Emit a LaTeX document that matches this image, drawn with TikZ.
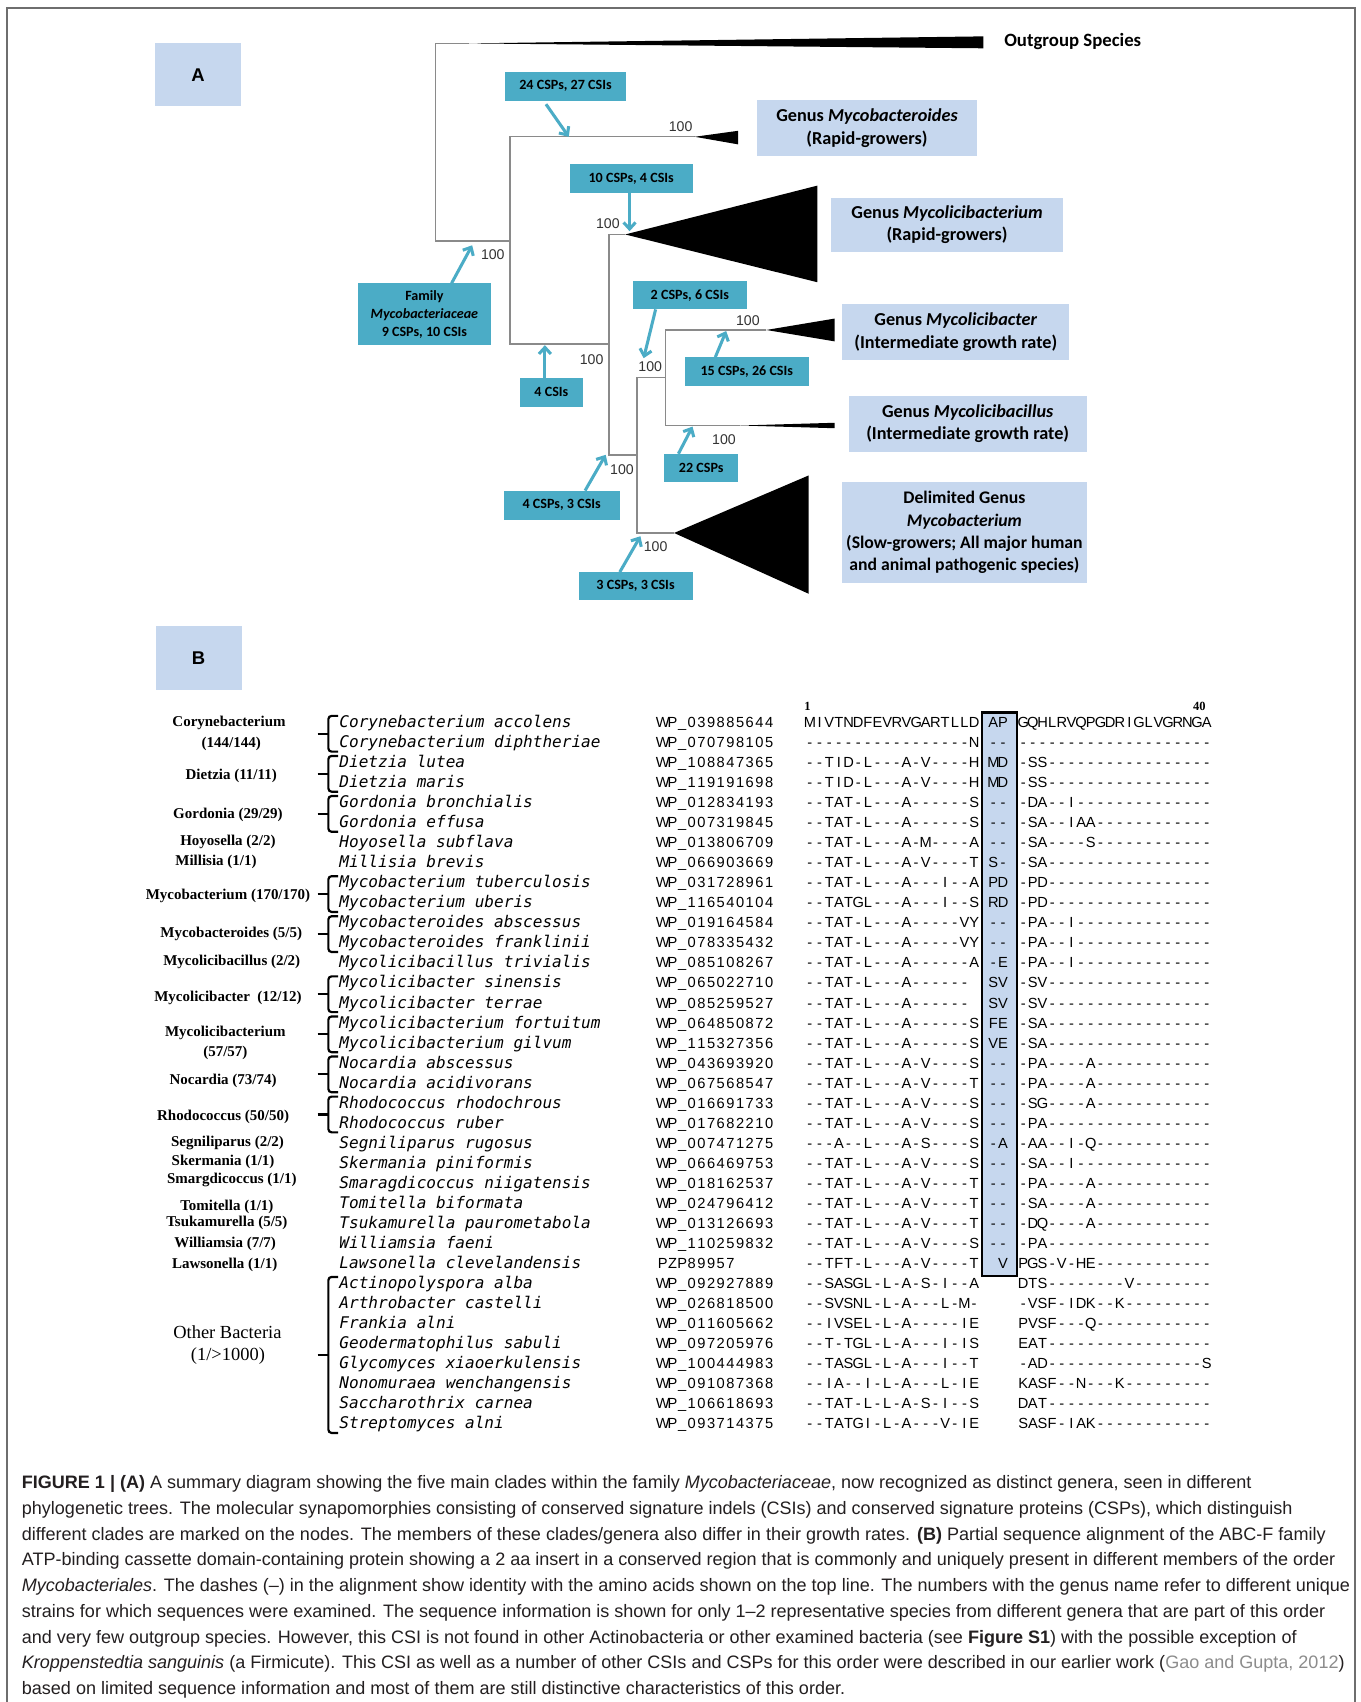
\documentclass[tikz,border=0pt]{standalone}
\usepackage{fontspec}
\setmainfont{Liberation Sans}
\newfontfamily\calfont{Carlito}
\newfontfamily\serfont{Liberation Serif}
\newfontfamily\spfont{DejaVu Sans Mono Oblique}
\usetikzlibrary{arrows.meta,calc}
\definecolor{teal5}{HTML}{4BACC6}
\definecolor{lblue}{HTML}{C6D7EE}
\definecolor{treegray}{HTML}{8A8A8A}
\definecolor{captxt}{HTML}{231F20}
\definecolor{capgray}{HTML}{8C8C8C}
\definecolor{framegray}{HTML}{6E6E6E}
\newlength\cw \setlength\cw{8.9pt}
\def\sq#1{\sqloop#1\relax}
\def\sqloop#1{\ifx#1\relax\else\sqchar{#1}\expandafter\sqloop\fi}
\def\sqchar#1{\ifx#1.\makebox[\cw]{}\else\makebox[\cw]{#1}\fi}
\newcommand\arow[6]{%
  \pgfmathsetmacro\rowy{665+(#1-1)*18.46+5.2}%
  \node[spst] (sp#1) at (312.5,\rowy) {#2};%
  \node[seqst] (acc#1) at (606,\rowy) {\sq{#3}};%
  \node[seqst] (lft#1) at (741.5,\rowy) {\sq{#4}};%
  \node[seqst] (ins#1) at (910.5,\rowy) {\sq{#5}};%
  \node[seqst] (rgt#1) at (938,\rowy) {\sq{#6}};%
}
\newcommand\gbrace[2]{%
  \pgfmathsetmacro\bt{665+(#1-1)*18.46-5.5}%
  \pgfmathsetmacro\bb{665+(#2-1)*18.46+9}%
  \pgfmathsetmacro\bm{(\bt+\bb)/2}%
  \draw[bracest] (311.5,\bt) -- (302.5,\bt) -- (302.5,\bb) -- (311.5,\bb);%
  \draw[bracest,rounded corners=0pt] (292.5,\bm) -- (302.5,\bm);%
}
\tikzset{
  treeline/.style={draw=treegray, line width=1.3pt},
  wedge/.style={fill=black},
  tealbox/.style={fill=teal5, inner sep=0pt, align=center, text=black,
    font=\calfont\bfseries\fontsize{13}{16.5}\selectfont},
  genbox/.style={fill=lblue, inner sep=0pt, align=center, text=black,
    font=\calfont\bfseries\fontsize{16.8}{20.5}\selectfont},
  letterbox/.style={fill=lblue, inner sep=0pt, minimum width=79pt, minimum height=58pt,
    font=\bfseries\fontsize{17}{20}\selectfont},
  tarrow/.style={draw=teal5, line width=2.8pt, -{Straight Barb[length=6pt,width=11pt]}},
  bslabel/.style={font=\fontsize{13}{15}\selectfont, text=black!80, inner sep=0pt},
  spst/.style={anchor=base west, inner sep=0pt, font=\spfont\fontsize{14.8}{16}\selectfont},
  seqst/.style={anchor=base west, inner sep=0pt, font=\fontsize{13.5}{15}\selectfont},
  genst/.style={inner sep=0pt, font=\serfont\bfseries\fontsize{13.8}{16}\selectfont},
  bracest/.style={draw=black, line width=2pt, rounded corners=3pt},
  capst/.style={anchor=base west, inner sep=0pt, text=captxt, font=\fontsize{16.6}{19}\selectfont},
}
\begin{document}
\begin{tikzpicture}[x=1pt,y=-1pt]
\useasboundingbox (0,0) rectangle (1253,1568);
\fill[white] (0,0) rectangle (1253,1568);
% frame
\draw[framegray, line width=1.5pt] (6.5,1568) -- (6.5,7.5) -- (1248.5,7.5) -- (1248.5,1568);

% ================= PANEL A =================
\node[letterbox] (labA) at (182.5,69) {A};

% tree coordinates
\coordinate (og0) at (401,40);
\coordinate (og1) at (432,40);
\coordinate (root) at (401,222);
\coordinate (n1) at (470,222);
\coordinate (n1t) at (470,126);
\coordinate (n1b) at (470,317);
\coordinate (n2) at (561,317);
\coordinate (n2t) at (561,216);
\coordinate (n2b) at (561,419);
\coordinate (n3) at (587,419);
\coordinate (n3t) at (587,348);
\coordinate (n3b) at (587,491);
\coordinate (n4) at (613,348);
\coordinate (n4t) at (613,304);
\coordinate (n4b) at (613,392);
\coordinate (w1) at (640,126);
\coordinate (w2) at (576,216);
\coordinate (w3) at (706,304);
\coordinate (w4) at (682,392);
\coordinate (w5) at (621,491);

\draw[treeline] (og1) -- (og0) -- (root) -- (n1);
\draw[treeline] (w1) -- (n1t) -- (n1b) -- (n2);
\draw[treeline] (w2) -- (n2t) -- (n2b) -- (n3);
\draw[treeline] (w5) -- (n3b) -- (n3t) -- (n4);
\draw[treeline] (w3) -- (n4t) -- (n4b) -- (w4);

\fill[wedge] (og1) -- (906,33.5) -- (906,44.5) -- cycle;
\fill[wedge] (w1) -- (680,120.5) -- (680,133) -- cycle;
\fill[wedge] (w2) -- (753,171) -- (753,260) -- cycle;
\fill[wedge] (w3) -- (769,293.5) -- (769,314.5) -- cycle;
\fill[wedge] (w4) -- (769,389.5) -- (769,394.5) -- cycle;
\fill[wedge] (w5) -- (745,438) -- (745,547) -- cycle;

\node[anchor=west, inner sep=0pt, font=\calfont\bfseries\fontsize{17.3}{20}\selectfont] (outg) at (925,38) {Outgroup Species};

% bootstrap labels
\node[bslabel] (b1) at (454,235) {100};
\node[bslabel] (b2) at (627,117) {100};
\node[bslabel] (b3) at (560,206) {100};
\node[bslabel] (b4) at (545,331) {100};
\node[bslabel] (b5) at (599,338) {100};
\node[bslabel] (b6) at (689,295) {100};
\node[bslabel] (b7) at (667,405) {100};
\node[bslabel] (b8) at (573,433) {100};
\node[bslabel] (b9) at (604,504) {100};

% teal boxes
\node[tealbox, minimum width=112pt, minimum height=27pt] (t1) at (521,79.5) {24 CSPs, 27 CSIs};
\node[tealbox, minimum width=113pt, minimum height=27pt] (t2) at (581.5,164.5) {10 CSPs, 4 CSIs};
\node[tealbox, minimum width=122pt, minimum height=57pt] (tF) at (391,289.5) {Family\\\textit{Mycobacteriaceae}\\9 CSPs, 10 CSIs};
\node[tealbox, minimum width=58pt, minimum height=27pt] (t4) at (508,361.5) {4 CSIs};
\node[tealbox, minimum width=105pt, minimum height=26pt] (t5) at (635.5,272) {2 CSPs, 6 CSIs};
\node[tealbox, minimum width=114pt, minimum height=27pt] (t6) at (688,342.5) {15 CSPs, 26 CSIs};
\node[tealbox, minimum width=68pt, minimum height=26pt] (t7) at (646,431) {22 CSPs};
\node[tealbox, minimum width=107pt, minimum height=27pt] (t8) at (517.5,465.5) {4 CSPs, 3 CSIs};
\node[tealbox, minimum width=105pt, minimum height=26pt] (t9) at (585.5,540) {3 CSPs, 3 CSIs};

% arrow coordinates
\coordinate (a1s) at (503,96);   \coordinate (a1e) at (524,126);
\coordinate (a2s) at (580,178);  \coordinate (a2e) at (580,213);
\coordinate (aFs) at (416,261);  \coordinate (aFe) at (435,226);
\coordinate (a4s) at (502,348);  \coordinate (a4e) at (502,318);
\coordinate (a5s) at (604,285);  \coordinate (a5e) at (593,330);
\coordinate (a6s) at (659,329);  \coordinate (a6e) at (669,305);
\coordinate (a7s) at (625,418);  \coordinate (a7e) at (638,393);
\coordinate (a8s) at (539,452);  \coordinate (a8e) at (558,419);
\coordinate (a9s) at (571,527);  \coordinate (a9e) at (590,494);
\draw[tarrow] (a1s) -- (a1e);
\draw[tarrow] (a2s) -- (a2e);
\draw[tarrow] (aFs) -- (aFe);
\draw[tarrow] (a4s) -- (a4e);
\draw[tarrow] (a5s) -- (a5e);
\draw[tarrow] (a6s) -- (a6e);
\draw[tarrow] (a7s) -- (a7e);
\draw[tarrow] (a8s) -- (a8e);
\draw[tarrow] (a9s) -- (a9e);

% genus boxes
\node[genbox, minimum width=202.5pt, minimum height=52pt] (g1) at (798.75,118) {Genus \textit{Mycobacteroides}\\(Rapid-growers)};
\node[genbox, minimum width=213pt, minimum height=50pt] (g2) at (872.5,207) {Genus \textit{Mycolicibacterium}\\(Rapid-growers)};
\node[genbox, minimum width=209pt, minimum height=52pt] (g3) at (880.5,306) {Genus \textit{Mycolicibacter}\\(Intermediate growth rate)};
\node[genbox, minimum width=219pt, minimum height=51pt] (g4) at (891.5,390.5) {Genus \textit{Mycolicibacillus}\\(Intermediate growth rate)};
\node[genbox, minimum width=225pt, minimum height=93pt, font=\calfont\bfseries\fontsize{16.3}{20.5}\selectfont] (g5) at (888.5,490.5) {Delimited Genus\\\textit{Mycobacterium}\\(Slow-growers; All major human\\and animal pathogenic species)};

% ================= PANEL B =================
\node[letterbox, minimum height=59pt] (labB) at (183,606.5) {B};

% insert box
\draw[fill=lblue, draw=black, line width=2.2pt] (904.4,656.3) rectangle (936.7,1175.3);

\node[inner sep=0pt, font=\serfont\bfseries\fontsize{11.5}{13}\selectfont] (pos1) at (744,651) {1};
\node[inner sep=0pt, font=\serfont\bfseries\fontsize{11.5}{13}\selectfont] (pos40) at (1105,651) {40};

\arow{1}{Corynebacterium accolens}{WP\_039885644}{MIVTNDFEVRVGARTLLD}{AP}{GQHLRVQPGDRIGLVGRNGA}
\arow{2}{Corynebacterium diphtheriae}{WP\_070798105}{-----------------N}{--}{--------------------}
\arow{3}{Dietzia lutea}{WP\_108847365}{--TID-L---A-V----H}{MD}{-SS-----------------}
\arow{4}{Dietzia maris}{WP\_119191698}{--TID-L---A-V----H}{MD}{-SS-----------------}
\arow{5}{Gordonia bronchialis}{WP\_012834193}{--TAT-L---A------S}{--}{-DA--I--------------}
\arow{6}{Gordonia effusa}{WP\_007319845}{--TAT-L---A------S}{--}{-SA--IAA------------}
\arow{7}{Hoyosella subflava}{WP\_013806709}{--TAT-L---A-M----A}{--}{-SA----S------------}
\arow{8}{Millisia brevis}{WP\_066903669}{--TAT-L---A-V----T}{S-}{-SA-----------------}
\arow{9}{Mycobacterium tuberculosis}{WP\_031728961}{--TAT-L---A---I--A}{PD}{-PD-----------------}
\arow{10}{Mycobacterium uberis}{WP\_116540104}{--TATGL---A---I--S}{RD}{-PD-----------------}
\arow{11}{Mycobacteroides abscessus}{WP\_019164584}{--TAT-L---A-----VY}{--}{-PA--I--------------}
\arow{12}{Mycobacteroides franklinii}{WP\_078335432}{--TAT-L---A-----VY}{--}{-PA--I--------------}
\arow{13}{Mycolicibacillus trivialis}{WP\_085108267}{--TAT-L---A------A}{-E}{-PA--I--------------}
\arow{14}{Mycolicibacter sinensis}{WP\_065022710}{--TAT-L---A------.}{SV}{-SV-----------------}
\arow{15}{Mycolicibacter terrae}{WP\_085259527}{--TAT-L---A------.}{SV}{-SV-----------------}
\arow{16}{Mycolicibacterium fortuitum}{WP\_064850872}{--TAT-L---A------S}{FE}{-SA-----------------}
\arow{17}{Mycolicibacterium gilvum}{WP\_115327356}{--TAT-L---A------S}{VE}{-SA-----------------}
\arow{18}{Nocardia abscessus}{WP\_043693920}{--TAT-L---A-V----S}{--}{-PA----A------------}
\arow{19}{Nocardia acidivorans}{WP\_067568547}{--TAT-L---A-V----T}{--}{-PA----A------------}
\arow{20}{Rhodococcus rhodochrous}{WP\_016691733}{--TAT-L---A-V----S}{--}{-SG----A------------}
\arow{21}{Rhodococcus ruber}{WP\_017682210}{--TAT-L---A-V----S}{--}{-PA-----------------}
\arow{22}{Segniliparus rugosus}{WP\_007471275}{---A--L---A-S----S}{-A}{-AA--I-Q------------}
\arow{23}{Skermania piniformis}{WP\_066469753}{--TAT-L---A-V----S}{--}{-SA--I--------------}
\arow{24}{Smaragdicoccus niigatensis}{WP\_018162537}{--TAT-L---A-V----T}{--}{-PA----A------------}
\arow{25}{Tomitella biformata}{WP\_024796412}{--TAT-L---A-V----T}{--}{-SA----A------------}
\arow{26}{Tsukamurella paurometabola}{WP\_013126693}{--TAT-L---A-V----T}{--}{-DQ----A------------}
\arow{27}{Williamsia faeni}{WP\_110259832}{--TAT-L---A-V----S}{--}{-PA-----------------}
\arow{28}{Lawsonella clevelandensis}{PZP89957}{--TFT-L---A-V----T}{.V}{PGS-V-HE------------}
\arow{29}{Actinopolyspora alba}{WP\_092927889}{--SASGL-L-A-S-I--A}{..}{DTS--------V--------}
\arow{30}{Arthrobacter castelli}{WP\_026818500}{--SVSNL-L-A---L-M-}{..}{-VSF-IDK--K---------}
\arow{31}{Frankia alni}{WP\_011605662}{--IVSEL-L-A-----IE}{..}{PVSF---Q------------}
\arow{32}{Geodermatophilus sabuli}{WP\_097205976}{--T-TGL-L-A---I-IS}{..}{EAT-----------------}
\arow{33}{Glycomyces xiaoerkulensis}{WP\_100444983}{--TASGL-L-A---I--T}{..}{-AD----------------S}
\arow{34}{Nonomuraea wenchangensis}{WP\_091087368}{--IA--I-L-A---L-IE}{..}{KASF--N---K---------}
\arow{35}{Saccharothrix carnea}{WP\_106618693}{--TAT-L-L-A-S-I--S}{..}{DAT-----------------}
\arow{36}{Streptomyces alni}{WP\_093714375}{--TATGI-L-A---V-IE}{..}{SASF-IAK------------}

% braces
\gbrace{1}{2}
\gbrace{3}{4}
\gbrace{5}{6}
\gbrace{9}{10}
\gbrace{11}{12}
\gbrace{14}{15}
\gbrace{16}{17}
\gbrace{18}{19}
\gbrace{20}{21}
\gbrace{29}{36}

% genus labels
\node[genst] (gl1a) at (211,666) {Corynebacterium};
\node[genst] (gl1b) at (213,685) {(144/144)};
\node[genst] (gl2) at (213,715) {Dietzia (11/11)};
\node[genst] (gl3) at (210,751) {Gordonia (29/29)};
\node[genst] (gl4) at (210,776) {Hoyosella (2/2)};
\node[genst] (gl5) at (199,794) {Millisia (1/1)};
\node[genst] (gl6) at (210,825) {Mycobacterium (170/170)};
\node[genst] (gl7) at (213,860.5) {Mycobacteroides (5/5)};
\node[genst] (gl8) at (213.5,886) {Mycolicibacillus (2/2)};
\node[genst] (gl9) at (210,919) {Mycolicibacter\ \ (12/12)};
\node[genst] (gl10a) at (207.6,952) {Mycolicibacterium};
\node[genst] (gl10b) at (207.6,970) {(57/57)};
\node[genst] (gl11) at (205.5,996) {Nocardia (73/74)};
\node[genst] (gl12) at (205.5,1029) {Rhodococcus (50/50)};
\node[genst] (gl13) at (209.6,1053) {Segniliparus (2/2)};
\node[genst] (gl14) at (205.5,1070) {Skermania (1/1)};
\node[genst] (gl15) at (213.6,1087) {Smargdicoccus (1/1)};
\node[genst] (gl16) at (209,1111.5) {Tomitella (1/1)};
\node[genst] (gl17) at (209,1127) {Tsukamurella (5/5)};
\node[genst] (gl18) at (207.4,1145.5) {Williamsia (7/7)};
\node[genst] (gl19) at (207,1165.5) {Lawsonella (1/1)};
\node[inner sep=0pt, font=\serfont\fontsize{17}{20}\selectfont] (gl20a) at (209.5,1227.5) {Other Bacteria};
\node[inner sep=0pt, font=\serfont\fontsize{17}{20}\selectfont] (gl20b) at (210,1249) {(1/>1000)};

% ================= CAPTION =================
\node[capst] (c1) at (20,1371.5) {\textbf{FIGURE 1 | (A)} A summary diagram showing the five main clades within the family \textit{Mycobacteriaceae}, now recognized as distinct genera, seen in different};
\node[capst] (c2) at (20,1395.2) {phylogenetic trees. The molecular synapomorphies consisting of conserved signature indels (CSIs) and conserved signature proteins (CSPs), which distinguish};
\node[capst] (c3) at (20,1418.9) {different clades are marked on the nodes. The members of these clades/genera also differ in their growth rates. \textbf{(B)} Partial sequence alignment of the ABC-F family};
\node[capst] (c4) at (20,1442.6) {ATP-binding cassette domain-containing protein showing a 2 aa insert in a conserved region that is commonly and uniquely present in different members of the order};
\node[capst] (c5) at (20,1466.3) {\textit{Mycobacteriales}. The dashes (--) in the alignment show identity with the amino acids shown on the top line. The numbers with the genus name refer to different unique};
\node[capst] (c6) at (20,1490.0) {strains for which sequences were examined. The sequence information is shown for only 1--2 representative species from different genera that are part of this order};
\node[capst] (c7) at (20,1513.7) {and very few outgroup species. However, this CSI is not found in other Actinobacteria or other examined bacteria (see \textbf{Figure S1}) with the possible exception of};
\node[capst] (c8) at (20,1537.4) {\textit{Kroppenstedtia sanguinis} (a Firmicute). This CSI as well as a number of other CSIs and CSPs for this order were described in our earlier work ({\color{capgray}Gao and Gupta, 2012})};
\node[capst] (c9) at (20,1561.1) {based on limited sequence information and most of them are still distinctive characteristics of this order.};
\end{tikzpicture}
\end{document}
